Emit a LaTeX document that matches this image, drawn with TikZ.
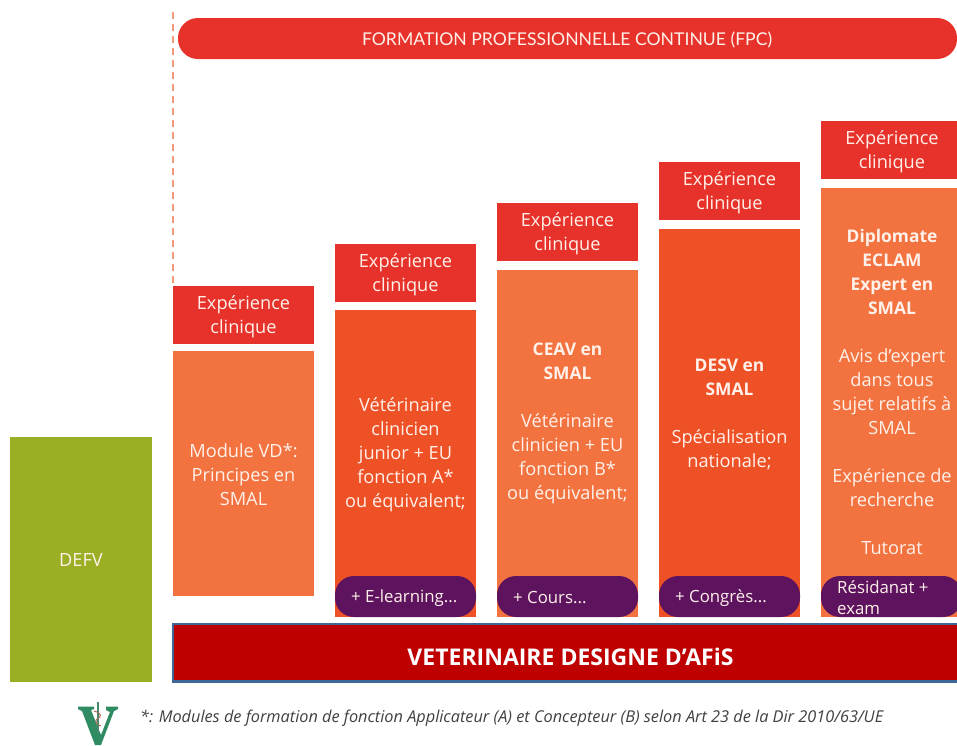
\documentclass[tikz,border=0pt]{standalone}
\usepackage{fontspec}
\setmainfont{Open Sans}
\newfontfamily\topfont{Lato}
\definecolor{lightor}{HTML}{F27340}
\definecolor{darkor}{HTML}{EF5127}
\definecolor{hdred}{HTML}{E6322A}
\definecolor{purp}{HTML}{5E135F}
\definecolor{grn}{HTML}{9AAF24}
\definecolor{barred}{HTML}{BE0000}
\definecolor{barblue}{HTML}{3F6797}
\definecolor{dashor}{HTML}{F49A78}
\definecolor{logog}{HTML}{2E8B62}
\definecolor{logob}{HTML}{A8705A}
\definecolor{foot}{HTML}{404040}
\definecolor{txt}{HTML}{FFF1EA}
\newcommand{\fs}{\fontsize{18.2}{24}\selectfont}
\newcommand{\hb}[1]{{\fontsize{17.4}{24}\selectfont\bfseries #1}}
\newcommand{\pt}{\fontsize{16.8}{21}\selectfont}
\tikzset{
 x=1pt,y=-1pt,
 box/.style={anchor=north west,inner sep=0pt,outer sep=0pt,minimum width=#1},
 hdr/.style={box=141pt,fill=hdred,minimum height=58pt,text=txt,align=center,font=\fs,text depth=0pt},
 body/.style={box=141pt,minimum height=#1,inner sep=0pt},
 lbl/.style={text=txt,align=center,font=\fs,inner sep=0pt},
 pill/.style={anchor=north west,fill=purp,rounded corners=19pt,minimum width=141pt,minimum height=41pt,inner sep=0pt,outer sep=0pt},
 plbl/.style={anchor=west,text=txt,font=\pt,align=left,inner sep=0pt},
}
\begin{document}
\begin{tikzpicture}
\useasboundingbox (0,0) rectangle (957,745);
\fill[white] (0,0) rectangle (957,745);

\coordinate (dashtop) at (173,12);
\begin{scope}
\clip (0,0) rectangle (957,745);
\node[anchor=north west,fill=hdred,rounded corners=20pt,minimum width=779pt,minimum height=41pt,inner sep=0pt,outer sep=0pt] (fpc) at (178,18) {};
\node[text=txt,inner sep=0pt,font=\topfont\fontsize{17.6}{22}\selectfont] (fpclab) at (567,40) {FORMATION PROFESSIONNELLE CONTINUE (FPC)};

% column 1
\node[hdr] (h1) at (173,286) {Expérience\\clinique};
\node[body=245pt,fill=lightor] (b1) at (173,351) {};
\node[lbl] (t1) at (243.5,475) {Module VD*:\\Principes en\\SMAL};
\draw[dashor,line width=1.2pt,dash pattern=on 7pt off 5pt] (dashtop) -- (h1.north west);

% column 2
\node[hdr] (h2) at (335,243.5) {Expérience\\clinique};
\node[body=307pt,fill=darkor] (b2) at (335,310) {};
\node[lbl] (t2) at (405.5,455) {Vétérinaire\\clinicien\\junior + EU\\fonction A*\\ou équivalent;};
\node[pill] (p2) at (335,576) {};
\node[plbl] (l2) at (351,598) {+ E-learning...};

% column 3
\node[hdr] (h3) at (497,203) {Expérience\\clinique};
\node[body=347pt,fill=lightor] (b3) at (497,270) {};
\node[lbl] (t3) at (567.5,423.5) {\hb{CEAV en}\\\hb{SMAL}\\[24pt]Vétérinaire\\clinicien + EU\\fonction B*\\ou équivalent;};
\node[pill] (p3) at (497,576) {};
\node[plbl] (l3) at (513,598) {+ Cours...};

% column 4
\node[hdr] (h4) at (659,162) {Expérience\\clinique};
\node[body=388pt,fill=darkor] (b4) at (659,229) {};
\node[lbl] (t4) at (729.5,414) {\hb{DESV en}\\\hb{SMAL}\\[24pt]Spécialisation\\nationale;};
\node[pill] (p4) at (659,576) {};
\node[plbl] (l4) at (675,598) {+ Congrès...};

% column 5
\node[hdr,minimum width=142pt] (h5) at (821,121) {Expérience\\clinique};
\node[body=429pt,fill=lightor] (b5) at (821,188) {};
\node[lbl] (t5) at (892,391.5) {\hb{Diplomate}\\\hb{ECLAM}\\\hb{Expert en}\\\hb{SMAL}\\[24pt]Avis d’expert\\dans tous\\sujet relatifs à\\SMAL\\[24pt]Expérience de\\recherche\\[24pt]Tutorat};
\node[pill] (p5) at (821,576) {};
\node[plbl] (l5) at (837,597.5) {Résidanat +\\exam};

% base
\node[anchor=north west,fill=grn,minimum width=142pt,minimum height=245pt,inner sep=0pt,outer sep=0pt,text=txt,font=\fs] (defv) at (10,437) {DEFV};
\node[anchor=north west,fill=barred,draw=barblue,line width=2.5pt,minimum width=790pt,minimum height=57.5pt,inner sep=0pt,outer sep=0pt] (vet) at (173,624) {};
\node[text=white,inner sep=0pt,font=\fontsize{23}{26}\selectfont\bfseries] (vetlab) at (570.5,657) {VETERINAIRE DESIGNE D’AFiS};

% logo
\fill[logog] (78,706.5) -- (94,706.5) -- (94,709) -- (91,710) -- (101,735) -- (110,712) -- (106,710) -- (106,706.5) -- (118,706.5) -- (118,709) -- (114,711) -- (101,745) -- (95,745) -- (82,711) -- (78,709) -- cycle;
\draw[logog!70!gray,line width=1.2pt] (98,702) -- (98,733);
\draw[logob,line width=1pt] (94,711) .. controls (102,713) and (102,717) .. (97,719) .. controls (94,721) and (97,725) .. (101,726);

\node[anchor=west,text=foot,inner sep=0pt,font=\fontsize{16.3}{20}\selectfont\itshape] (note) at (140,718) {*: Modules de formation de fonction Applicateur (A) et Concepteur (B) selon Art 23 de la Dir 2010/63/UE};
\end{scope}
\end{tikzpicture}
\end{document}
